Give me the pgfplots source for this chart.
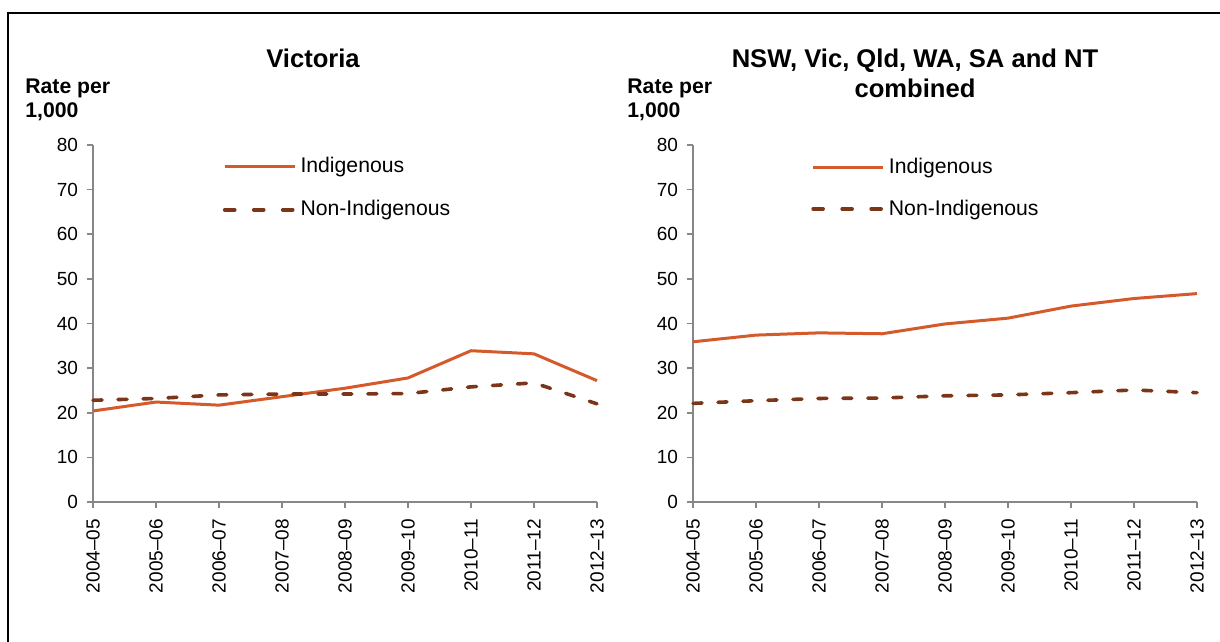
\documentclass[border=0pt]{standalone}
\usepackage{fontspec}
\setmainfont{Liberation Sans}
\usepackage{pgfplots}
\pgfplotsset{compat=1.18}
\definecolor{indig}{HTML}{D55A2B}
\definecolor{nonind}{HTML}{7B361A}
\definecolor{axgray}{HTML}{878787}
\pgfplotsset{
  panel/.style={
    scale only axis, width=252pt, height=178.5pt,
    xmin=0, xmax=8, ymin=0, ymax=80,
    axis x line=bottom, axis y line=left,
    axis line style={axgray, line width=0.8pt, -},
    xtick={0,...,8},
    xticklabels={2004--05,2005--06,2006--07,2007--08,2008--09,2009--10,2010--11,2011--12,2012--13},
    ytick={0,10,...,80},
    tick style={axgray, line width=0.8pt},
    major tick length=3pt,
    tick align=outside,
    x tick label style={rotate=90, anchor=east, font=\fontsize{9.5}{11}\selectfont, xshift=-2pt},
    y tick label style={font=\fontsize{9.5}{11}\selectfont, xshift=-1pt},
    /pgf/number format/assume math mode=true,
    clip=false,
    legend style={draw=none, fill=none, font=\fontsize{10.6}{12}\selectfont, anchor=north west,
      row sep=8.5pt, inner sep=0pt, cells={anchor=west}},
    legend cell align=left,
    legend image code/.code={\draw[#1] (0pt,0pt) -- (35pt,0pt);},
  },
  ind/.style={indig, line width=1.5pt, line join=round},
  non/.style={nonind, line width=1.8pt, line cap=round, dash pattern=on 4.5pt off 8pt,
    legend image post style={dash pattern=on 5pt off 9.5pt}},
}
\begin{document}
\begin{tikzpicture}[x=1pt,y=1pt]
\useasboundingbox (0,0) rectangle (610,321);
\draw[line width=1pt] (3.5,314.5) -- (610,314.5);
\draw[line width=1pt] (4,314.5) -- (4,0);
\begin{axis}[panel, at={(46.5pt,70pt)}, anchor=south west,
  legend style={at={(0.257,0.978)}}]
\addplot[ind] coordinates {(0,20.4) (1,22.4) (2,21.7) (3,23.6) (4,25.5) (5,27.8) (6,33.9) (7,33.2) (8,27.2)};
\addlegendentry{Indigenous}
\addplot[non] coordinates {(0,22.8) (1,23.2) (2,24.0) (3,24.2) (4,24.2) (5,24.3) (6,25.8) (7,26.7) (8,22.0)};
\addlegendentry{Non-Indigenous}
\end{axis}
\begin{axis}[panel, at={(346.5pt,70pt)}, anchor=south west,
  legend style={at={(0.234,0.975)}, row sep=7.5pt}]
\addplot[ind] coordinates {(0,35.9) (1,37.4) (2,37.9) (3,37.7) (4,39.9) (5,41.2) (6,43.9) (7,45.6) (8,46.7)};
\addlegendentry{Indigenous}
\addplot[non] coordinates {(0,22.1) (1,22.7) (2,23.2) (3,23.3) (4,23.8) (5,24.0) (6,24.5) (7,25.1) (8,24.5)};
\addlegendentry{Non-Indigenous}
\end{axis}
\node[font=\bfseries\fontsize{12.8}{15}\selectfont] at (156.5,292) {Victoria};
\node[font=\bfseries\fontsize{12.8}{15}\selectfont, align=center] at (457.5,284.5) {NSW, Vic, Qld, WA, SA and NT\\combined};
\node[font=\bfseries\fontsize{10.6}{12}\selectfont, align=left, anchor=west, inner sep=0pt] at (12.5,271) {Rate per\\1,000};
\node[font=\bfseries\fontsize{10.6}{12}\selectfont, align=left, anchor=west, inner sep=0pt] at (313.5,271) {Rate per\\1,000};
\end{tikzpicture}
\end{document}
